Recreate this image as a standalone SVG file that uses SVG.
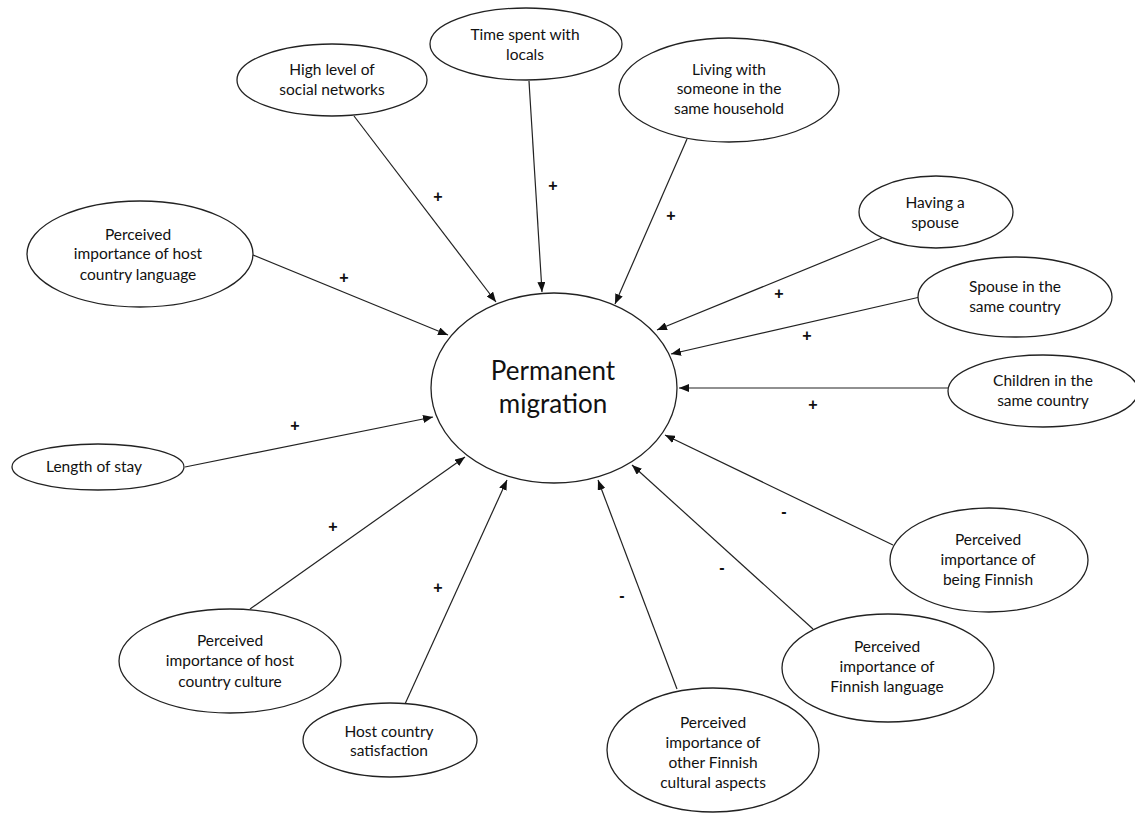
<svg xmlns="http://www.w3.org/2000/svg" width="1135" height="814" viewBox="0 0 1135 814">
<style>
.n ellipse{fill:#fff;stroke:#222;stroke-width:1.3}
.n text{font-family:Lato,"Open Sans","Liberation Sans",sans-serif;font-size:15.5px;fill:#111;text-anchor:middle}
#central text{font-size:26px}
.c line{stroke:#222;stroke-width:1.2;marker-end:url(#ah)}
.lbl{font-family:"Liberation Sans",Arial,sans-serif;font-size:16px;font-weight:bold;fill:#111;text-anchor:middle}
</style>
<defs>
<marker id="ah" markerUnits="userSpaceOnUse" markerWidth="10" markerHeight="8" refX="10" refY="4" orient="auto">
<path d="M0,0 L10,4 L0,8 z" fill="#111"/>
</marker>
</defs>
<rect width="1135" height="814" fill="#fff"/>
<g id="connectors" class="c">
<line x1="354" y1="116" x2="496" y2="302"/>
<line x1="529" y1="81" x2="542" y2="292"/>
<line x1="687" y1="139" x2="615" y2="304"/>
<line x1="882" y1="238" x2="657" y2="330"/>
<line x1="920" y1="297" x2="671" y2="354"/>
<line x1="948" y1="388" x2="679" y2="388"/>
<line x1="893" y1="545" x2="665" y2="435"/>
<line x1="813" y1="629" x2="632" y2="465"/>
<line x1="677" y1="689" x2="598" y2="480"/>
<line x1="405" y1="704" x2="507" y2="480"/>
<line x1="250" y1="609" x2="465" y2="457"/>
<line x1="185" y1="467" x2="433" y2="417"/>
<line x1="253" y1="255" x2="448" y2="335"/>
</g>
<g id="labels">
<text class="lbl" x="438" y="202">+</text>
<text class="lbl" x="553" y="191">+</text>
<text class="lbl" x="671" y="221">+</text>
<text class="lbl" x="779" y="299">+</text>
<text class="lbl" x="807" y="341">+</text>
<text class="lbl" x="813" y="410">+</text>
<text class="lbl" x="784" y="517">-</text>
<text class="lbl" x="722" y="573">-</text>
<text class="lbl" x="622" y="601">-</text>
<text class="lbl" x="438" y="593">+</text>
<text class="lbl" x="333" y="532">+</text>
<text class="lbl" x="295" y="431">+</text>
<text class="lbl" x="344" y="283">+</text>
</g>
<g id="central" class="n">
<ellipse cx="554" cy="388" rx="123" ry="95"/>
<text x="553" y="380">Permanent</text>
<text x="553" y="413">migration</text>
</g>
<g id="high-social" class="n">
<ellipse cx="332" cy="80" rx="95" ry="36"/>
<text x="332" y="75">High level of</text>
<text x="332" y="95">social networks</text>
</g>
<g id="time-locals" class="n">
<ellipse cx="526" cy="44" rx="96" ry="36"/>
<text x="525" y="40">Time spent with</text>
<text x="525" y="60">locals</text>
</g>
<g id="living-household" class="n">
<ellipse cx="729" cy="90" rx="110" ry="52"/>
<text x="729" y="75">Living with</text>
<text x="729" y="94">someone in the</text>
<text x="729" y="114">same household</text>
</g>
<g id="having-spouse" class="n">
<ellipse cx="936" cy="212" rx="77" ry="36"/>
<text x="935" y="208">Having a</text>
<text x="935" y="228">spouse</text>
</g>
<g id="spouse-country" class="n">
<ellipse cx="1015" cy="297" rx="97" ry="40"/>
<text x="1015" y="292">Spouse in the</text>
<text x="1015" y="312">same country</text>
</g>
<g id="children-country" class="n">
<ellipse cx="1043" cy="391" rx="95" ry="36"/>
<text x="1043" y="386">Children in the</text>
<text x="1043" y="406">same country</text>
</g>
<g id="host-language" class="n">
<ellipse cx="140" cy="254" rx="113" ry="53"/>
<text x="138" y="240">Perceived</text>
<text x="138" y="259">importance of host</text>
<text x="138" y="280">country language</text>
</g>
<g id="length-stay" class="n">
<ellipse cx="98" cy="467" rx="86" ry="23"/>
<text x="94" y="472">Length of stay</text>
</g>
<g id="host-culture" class="n">
<ellipse cx="230" cy="661" rx="111" ry="52"/>
<text x="230" y="646">Perceived</text>
<text x="230" y="666">importance of host</text>
<text x="230" y="687">country culture</text>
</g>
<g id="host-satisfaction" class="n">
<ellipse cx="390" cy="740" rx="87" ry="37"/>
<text x="389" y="737">Host country</text>
<text x="389" y="756">satisfaction</text>
</g>
<g id="other-finnish" class="n">
<ellipse cx="713" cy="750" rx="106" ry="62"/>
<text x="713" y="728">Perceived</text>
<text x="713" y="748">importance of</text>
<text x="713" y="768">other Finnish</text>
<text x="713" y="788">cultural aspects</text>
</g>
<g id="finnish-language" class="n">
<ellipse cx="888" cy="668" rx="106" ry="54"/>
<text x="887" y="652">Perceived</text>
<text x="887" y="672">importance of</text>
<text x="887" y="692">Finnish language</text>
</g>
<g id="being-finnish" class="n">
<ellipse cx="989" cy="560" rx="99" ry="52"/>
<text x="988" y="545">Perceived</text>
<text x="988" y="565">importance of</text>
<text x="988" y="585">being Finnish</text>
</g>
</svg>
